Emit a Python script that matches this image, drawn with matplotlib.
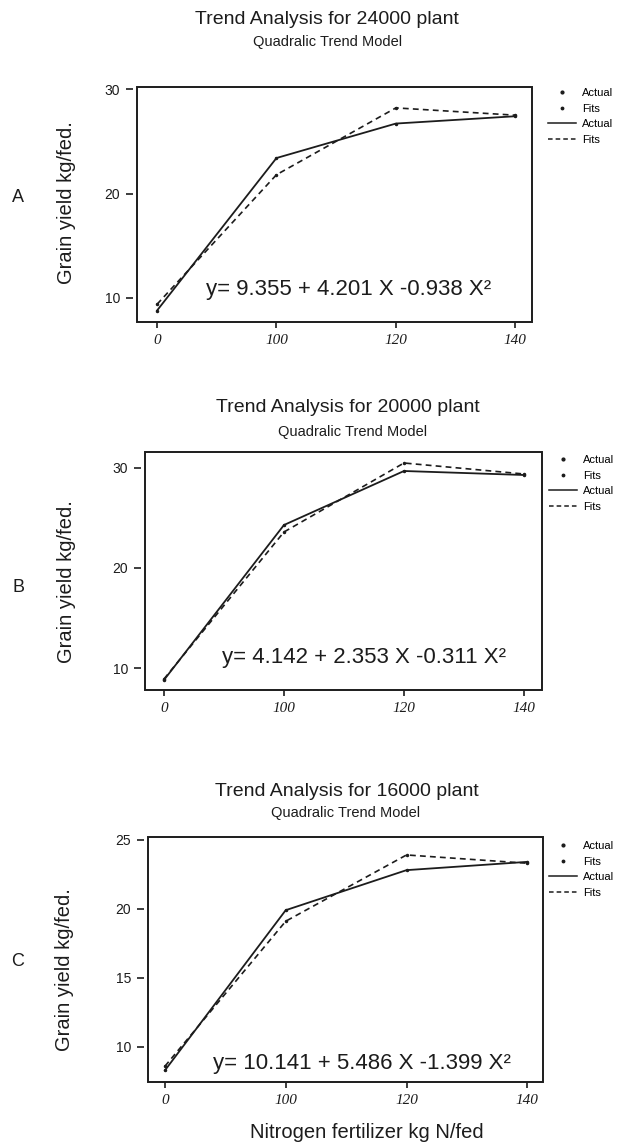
"""
Trend analysis plots (quadratic trend model) for three plant densities.
"""

import matplotlib
matplotlib.use("Agg")
import matplotlib.pyplot as plt
from matplotlib.lines import Line2D
from matplotlib.patches import Rectangle

plt.rcParams["font.family"] = ["Liberation Sans", "DejaVu Sans"]

W, H = 620, 1145

# nitrogen levels (categorical x axis)
n_levels = ["0", "100", "120", "140"]

# grain yield
actual_24000 = [8.8, 23.4, 26.7, 27.4]
fits_24000 = [9.4, 21.8, 28.2, 27.5]
actual_20000 = [8.8, 24.3, 29.7, 29.3]
fits_20000 = [8.9, 23.6, 30.5, 29.4]
actual_16000 = [8.3, 19.9, 22.8, 23.4]
fits_16000 = [8.6, 19.1, 23.9, 23.3]

titles = ["Trend Analysis for 24000 plant",
          "Trend Analysis for 20000 plant",
          "Trend Analysis for 16000 plant"]
subtitle = "Quadralic Trend Model"
equations = ["y= 9.355 + 4.201 X -0.938 X²",
             "y= 4.142 + 2.353 X -0.311 X²",
             "y= 10.141 + 5.486 X -1.399 X²"]
panel_tags = ["A", "B", "C"]
yticks = [[10, 20, 30], [10, 20, 30], [10, 15, 20, 25]]


def fx(x):
    return x / W


def fy(y):
    return 1 - y / H


# layout in pixels of the page: box (left, top, right, bottom), limits, text spots
panels = [
    dict(box=(137, 87, 532, 322), ylim=(7.7, 30.2), xlim=(-0.168, 3.14),
         title=(327, 20), sub=(328, 42), eq=(206, 290), tag=(18, 197),
         ylab=(67, 203), leg=(548, 88), data=(actual_24000, fits_24000)),
    dict(box=(145, 452, 542, 690), ylim=(7.8, 31.6), xlim=(-0.158, 3.15),
         title=(348, 408), sub=(353, 432), eq=(222, 658), tag=(18, 587),
         ylab=(67, 582), leg=(549, 455), data=(actual_20000, fits_20000)),
    dict(box=(148, 837, 543, 1082), ylim=(7.46, 25.2), xlim=(-0.14, 3.13),
         title=(347, 791), sub=(346, 813), eq=(213, 1063), tag=(18, 962),
         ylab=(65, 970), leg=(549, 841), data=(actual_16000, fits_16000)),
]

fig = plt.figure(figsize=(W / 100, H / 100), dpi=100)
ink = "#1c1c1c"

for i, p in enumerate(panels):
    l, t, r, b = p["box"]
    ax = fig.add_axes([fx(l), fy(b), (r - l) / W, (b - t) / H])
    xs = range(len(n_levels))
    actual, fits = p["data"]
    ax.plot(xs, actual, color=ink, lw=1.3, marker=".", ms=3)
    ax.plot(xs, fits, color=ink, lw=1.2, dashes=(3.5, 2.5), marker=".", ms=3)
    ax.set_xlim(*p["xlim"])
    ax.set_ylim(*p["ylim"])
    ax.set_xticks(list(xs))
    ax.set_xticklabels(n_levels, fontsize=11, fontstyle="italic",
                       family=["Liberation Serif", "DejaVu Serif"])
    ax.set_yticks(yticks[i])
    ax.set_yticklabels([str(v) for v in yticks[i]], fontsize=7.5, fontweight="bold")
    for s in ax.spines.values():
        s.set_visible(False)
    ax.spines["left"].set_position(("outward", 3))
    ax.tick_params(axis="y", direction="out", length=5, width=1.2, pad=4, colors=ink)
    ax.tick_params(axis="x", direction="out", length=4, width=1.2, pad=5, colors=ink)
    ax.add_patch(Rectangle((0, 0), 1, 1, transform=ax.transAxes, fill=False,
                           lw=1.4, edgecolor=ink, clip_on=False))

    fig.text(fx(p["eq"][0]), fy(p["eq"][1]), equations[i], fontsize=16,
             ha="left", va="center", color=ink)
    fig.text(fx(p["title"][0]), fy(p["title"][1]), titles[i], fontsize=14,
             ha="center", va="center", color=ink)
    fig.text(fx(p["sub"][0]), fy(p["sub"][1]), subtitle, fontsize=10.5,
             ha="center", va="center", color=ink)
    fig.text(fx(p["tag"][0]), fy(p["tag"][1]), panel_tags[i], fontsize=13,
             ha="center", va="center", color=ink)
    fig.text(fx(p["ylab"][0]), fy(p["ylab"][1]), "Grain yield kg/fed.", fontsize=14.5,
             rotation=90, ha="center", va="center", color=ink)

    handles = [
        Line2D([], [], ls="none", marker=".", ms=4, color=ink),
        Line2D([], [], ls="none", marker=".", ms=3.5, color=ink),
        Line2D([], [], color=ink, lw=1.1),
        Line2D([], [], color=ink, lw=1.1, dashes=(3, 2)),
    ]
    fig.legend(handles, ["Actual", "Fits", "Actual", "Fits"],
               loc="upper left", bbox_to_anchor=(fx(p["leg"][0]), fy(p["leg"][1])),
               frameon=False, fontsize=8, borderpad=0, borderaxespad=0,
               handlelength=2.5, handletextpad=0.6, labelspacing=0.5)

fig.text(fx(367), fy(1133), "Nitrogen fertilizer kg N/fed", fontsize=14.5,
         ha="center", va="center", color=ink)

fig.savefig("out.png", dpi=100, facecolor="white")
